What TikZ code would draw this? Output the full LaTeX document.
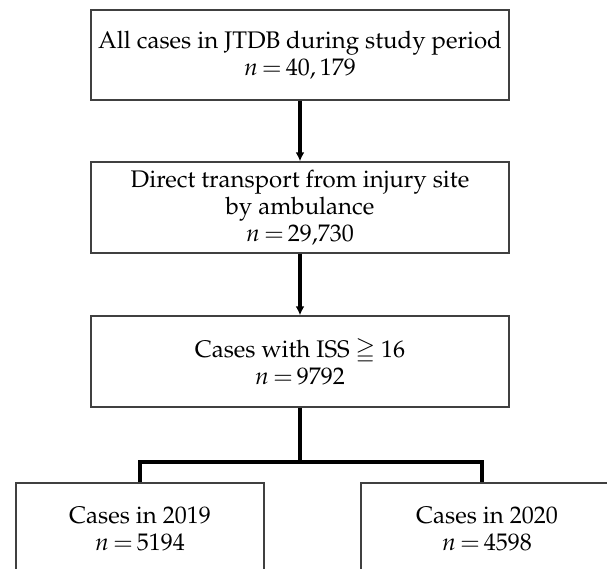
\documentclass[tikz,border=0pt]{standalone}
\usepackage[T1]{fontenc}
\usepackage{mathpazo}
\usepackage{amsmath,amssymb}
\usepackage{tikz}
\usetikzlibrary{arrows.meta,positioning}

\begin{document}
\begin{tikzpicture}[x=0.5pt,y=-0.5pt,every node/.style={draw=black!75,line width=0.7pt,font=\fontsize{12}{13.5}\selectfont,align=center,inner sep=0pt,minimum height=45.5pt},>={Latex[length=4.5pt,width=4.5pt]}]
\clip (0,0) rectangle (607,569);
\node[minimum width=209pt,minimum height=45pt] (a) at (300,55) {All cases in JTDB during study period\\$n\,{=}\,40,179$};
\node[minimum width=209pt] (b) at (300,207.5) {Direct transport from injury site\\by ambulance\\$n\,{=}\,29{,}730$};
\node[minimum width=209pt] (c) at (300,361.5) {Cases with ISS $\geqq$ 16\\$n\,{=}\,9792$};
\node[minimum width=124pt] (d) at (140,528.5) {Cases in 2019\\$n\,{=}\,5194$};
\node[minimum width=126pt] (e) at (487,528.5) {Cases in 2020\\$n\,{=}\,4598$};
\coordinate (j) at (300,462);
\draw[->,line width=1.8pt] (a)--(b);\draw[->,line width=1.8pt] (b)--(c);
\draw[line width=1.8pt] (c.south) -- (j) (d.north) |- (j) -| ([xshift=-2.5pt]e.north);
\end{tikzpicture}
\end{document}
